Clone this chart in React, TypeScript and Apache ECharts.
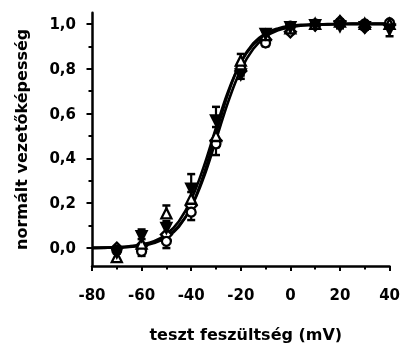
import React, { useEffect, useRef } from "react";
import * as echarts from "echarts";

// measured points (mV)
const xVals = [-70, -60, -50, -40, -30, -20, -10, 0, 10, 20, 30, 40];
const circleY = [-0.01, -0.015, 0.03, 0.16, 0.465, 0.8, 0.915, 0.99, 1.0, 1.0, 1.0, 1.005];
const circleErr = [-0.015, -0.02, -0.03, -0.035, -0.05, -0.02, -0.015, -0.01, -0.01, -0.01, -0.01, -0.01];
const triUpY = [-0.04, 0.02, 0.155, 0.22, 0.5, 0.836, 0.95, 0.98, 1.0, 1.01, 1.0, 1.0];
const triUpErr = [-0.02, 0.02, 0.035, 0.03, 0.04, 0.03, 0.015, 0.01, 0.01, 0.01, 0.01, 0.01];
const triDownY = [-0.02, 0.053, 0.09, 0.265, 0.57, 0.775, 0.955, 0.985, 0.995, 0.99, 0.985, 0.975];
const triDownErr = [0.015, 0.03, 0.03, 0.065, 0.06, -0.02, 0.015, 0.01, 0.01, -0.01, -0.01, -0.03];
const diamondY = [0.0, 0.01, 0.06, 0.19, 0.48, 0.79, 0.93, 0.965, 0.995, 1.01, 0.985, 0.995];
const diamondErr = [-0.01, -0.01, -0.02, -0.02, -0.03, -0.02, -0.015, -0.01, -0.01, -0.01, -0.01, -0.01];

// fitted curves
const curveX = [-80, -75, -70, -65, -60, -55, -50, -45, -40, -35, -30, -25, -20, -15, -10, -5, 0, 5, 10, 15, 20, 25, 30, 35, 40];
const curveA = [0.001, 0.002, 0.004, 0.008, 0.016, 0.031, 0.062, 0.119, 0.216, 0.361, 0.536, 0.702, 0.828, 0.908, 0.953, 0.976, 0.988, 0.994, 0.997, 0.998, 0.999, 1.0, 1.0, 1.0, 1.0];
const curveB = [0.001, 0.0015, 0.003, 0.006, 0.013, 0.026, 0.051, 0.099, 0.182, 0.313, 0.482, 0.655, 0.795, 0.888, 0.942, 0.971, 0.985, 0.993, 0.996, 0.998, 0.999, 1.0, 1.0, 1.0, 1.0];
const curveC = [0.0005, 0.001, 0.002, 0.005, 0.01, 0.022, 0.046, 0.094, 0.183, 0.327, 0.511, 0.693, 0.83, 0.913, 0.958, 0.98, 0.991, 0.996, 0.998, 0.999, 1.0, 1.0, 1.0, 1.0, 1.0];

const yLabelValues = [0, 0.2, 0.4, 0.6, 0.8, 1.0];
const yMinorValues = [0.1, 0.3, 0.5, 0.7, 0.9];

const FONT = "DejaVu Sans";

export default function App() {
  const ref = useRef<HTMLDivElement>(null);
  useEffect(() => {
    const chart = echarts.init(ref.current!, null, { renderer: "svg" });

    const curveSeries = (data: number[]) => ({
      type: "line",
      data: curveX.map((x, i) => [x, data[i]]),
      smooth: 0.4,
      showSymbol: false,
      symbol: "none",
      lineStyle: { color: "#000", width: 2.6 },
      z: 2,
      silent: true,
    });

    const errSeries = (ys: number[], errs: number[]) => ({
      type: "custom",
      data: xVals.map((x, i) => [x, ys[i], ys[i] + errs[i]]),
      encode: { x: 0, y: [1, 2] },
      clip: false,
      z: 3,
      renderItem: (params: any, api: any) => {
        const p0 = api.coord([api.value(0), api.value(1)]);
        const p1 = api.coord([api.value(0), api.value(2)]);
        return {
          type: "group",
          children: [
            { type: "line", shape: { x1: p0[0], y1: p0[1], x2: p1[0], y2: p1[1] }, style: { stroke: "#000", lineWidth: 2.2 } },
            { type: "line", shape: { x1: p1[0] - 4, y1: p1[1], x2: p1[0] + 4, y2: p1[1] }, style: { stroke: "#000", lineWidth: 2.5 } },
          ],
        };
      },
    });

    const pointSeries = (ys: number[], symbol: string, size: number, fill: string, rotate = 0) => ({
      type: "line",
      data: xVals.map((x, i) => [x, ys[i]]),
      symbol,
      symbolSize: size,
      symbolRotate: rotate,
      showAllSymbol: true,
      lineStyle: { width: 0, opacity: 0 },
      itemStyle: { color: fill, borderColor: "#000", borderWidth: 2.3 },
      z: 4,
    });

    chart.setOption({
      animation: false,
      grid: { left: 92, right: 11, top: 12.7, bottom: 79, containLabel: false },
      xAxis: {
        type: "value",
        min: -80,
        max: 40,
        interval: 20,
        name: "teszt feszültség (mV)",
        nameLocation: "middle",
        nameGap: 60,
        nameTextStyle: { fontFamily: FONT, fontWeight: "bold", fontSize: 16, color: "#000", padding: [0, 0, 0, 10] },
        axisLine: { show: true, onZero: false, lineStyle: { color: "#000", width: 2.5 } },
        axisTick: { show: true, length: 5, lineStyle: { color: "#000", width: 2 } },
        minorTick: { show: true, splitNumber: 2, length: 3.5, lineStyle: { color: "#000", width: 2 } },
        axisLabel: { fontFamily: FONT, fontWeight: "bold", fontSize: 15, color: "#000", margin: 21 },
        splitLine: { show: false },
      },
      yAxis: [
        {
          type: "value",
          min: -0.08,
          max: 1.05,
          position: "left",
          name: "normált vezetőképesség",
          nameLocation: "middle",
          nameGap: 63,
          nameTextStyle: { fontFamily: FONT, fontWeight: "bold", fontSize: 16, color: "#000" },
          axisLine: { show: true, onZero: false, lineStyle: { color: "#000", width: 2.5 } },
          axisTick: { show: true, length: 5.5, customValues: yLabelValues, lineStyle: { color: "#000", width: 2 } },
          axisLabel: {
            customValues: yLabelValues,
            fontFamily: FONT,
            fontWeight: "bold",
            fontSize: 15,
            color: "#000",
            margin: 16,
            formatter: (v: number) => v.toFixed(1).replace(".", ","),
          },
          splitLine: { show: false },
        },
        {
          type: "value",
          min: -0.08,
          max: 1.05,
          position: "left",
          axisLine: { show: false, onZero: false },
          axisTick: { show: true, length: 3.5, customValues: yMinorValues, lineStyle: { color: "#000", width: 2 } },
          axisLabel: { show: false },
          splitLine: { show: false },
        },
      ],
      series: [
        curveSeries(curveA),
        curveSeries(curveB),
        curveSeries(curveC),
        errSeries(circleY, circleErr),
        errSeries(triUpY, triUpErr),
        errSeries(triDownY, triDownErr),
        errSeries(diamondY, diamondErr),
        pointSeries(diamondY, "diamond", 11, "#fff"),
        pointSeries(circleY, "circle", 9, "#fff"),
        pointSeries(triUpY, "triangle", 10, "#fff"),
        pointSeries(triDownY, "triangle", 10, "#000", 180),
      ],
    });
    return () => chart.dispose();
  }, []);
  return <div ref={ref} style={{ position: "fixed", left: 0, top: 0, width: 403, height: 347 }} />;
}
